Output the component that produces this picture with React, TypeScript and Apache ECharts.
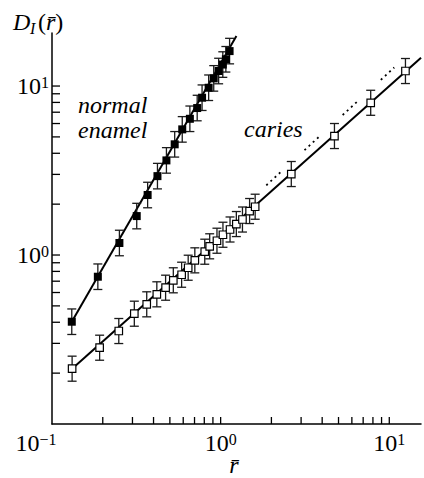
import React, { useEffect, useRef } from "react";
import * as echarts from "echarts";

// ---- data ----
const enamelX = [0.131, 0.187, 0.251, 0.318, 0.369, 0.422, 0.477, 0.534, 0.592, 0.657, 0.726, 0.776, 0.849, 0.91, 0.973, 1.03, 1.074, 1.13];
const enamelY = [0.403, 0.744, 1.178, 1.7, 2.265, 2.93, 3.63, 4.52, 5.54, 6.4, 7.41, 8.53, 9.77, 11.1, 12.27, 13.4, 14.4, 16.1];
const enamelErr = [1.19, 1.19, 1.19, 1.19, 1.19, 1.19, 1.19, 1.19, 1.19, 1.19, 1.19, 1.19, 1.19, 1.19, 1.19, 1.19, 1.19, 1.19];

const cariesX = [0.1316, 0.1916, 0.2489, 0.3077, 0.3645, 0.4184, 0.4716, 0.524, 0.587, 0.642, 0.703, 0.805, 0.861, 0.951, 1.032, 1.137, 1.239, 1.347, 1.485, 1.602, 2.624, 4.73, 7.76, 12.47];
const cariesY = [0.2125, 0.2828, 0.355, 0.4495, 0.5108, 0.5854, 0.6406, 0.7086, 0.7645, 0.841, 0.93, 1.046, 1.126, 1.215, 1.318, 1.416, 1.525, 1.622, 1.821, 1.931, 3.015, 5.06, 7.96, 12.27];
const cariesErr = [1.186, 1.186, 1.186, 1.186, 1.186, 1.186, 1.186, 1.186, 1.186, 1.186, 1.186, 1.186, 1.186, 1.186, 1.186, 1.186, 1.186, 1.186, 1.186, 1.186, 1.186, 1.186, 1.186, 1.186];

// fitted lines (end points)
const enamelFitX = [0.131, 1.24];
const enamelFitY = [0.403, 19.8];
const cariesFitX = [0.1316, 15.43];
const cariesFitY = [0.2125, 14.7];
const dottedX = [1.865, 10.7];
const dottedY = [2.585, 12.87];

// axes
const X_MIN = 0.1;
const X_MAX = 15.42;
const Y_MIN = 0.1;
const Y_MAX = 20.6;
const xTicks = [0.2, 0.3, 0.4, 0.5, 0.6, 0.7, 0.8, 0.9, 1, 2, 3, 4, 5, 6, 7, 8, 9, 10];
const yTicks = [0.2, 0.3, 0.4, 0.5, 0.6, 0.7, 0.8, 0.9, 1, 2, 3, 4, 5, 6, 7, 8, 9, 10];

const SERIF = "Liberation Serif, Times New Roman, serif";

function powerOf10(v: number): number | null {
  const e = Math.log10(v);
  const r = Math.round(e);
  return Math.abs(e - r) < 1e-6 ? r : null;
}
function expText(r: number) {
  return r < 0 ? "\u2212" + -r : String(r);
}

const rich = {
  b: { fontSize: 24, fontFamily: SERIF, color: "#000", lineHeight: 24 },
  s: { fontSize: 16, fontFamily: SERIF, color: "#000", lineHeight: 16, verticalAlign: "top" },
  sp: { width: 32, fontSize: 16, lineHeight: 16 },
};

function errorBarSeries(xs: number[], ys: number[], errs: number[]) {
  return {
    type: "custom",
    coordinateSystem: "cartesian2d",
    silent: true,
    z: 3,
    data: xs.map((x, i) => [x, ys[i] / errs[i], ys[i] * errs[i]]),
    encode: { x: 0, y: [1, 2] },
    renderItem: (_p: any, api: any) => {
      const x = api.value(0);
      const lo = api.coord([x, api.value(1)]);
      const hi = api.coord([x, api.value(2)]);
      const c = 4.5;
      const st = { stroke: "#1a1a1a", lineWidth: 1.3 };
      return {
        type: "group",
        children: [
          { type: "line", shape: { x1: lo[0], y1: lo[1], x2: hi[0], y2: hi[1] }, style: st },
          { type: "line", shape: { x1: lo[0] - c, y1: lo[1], x2: lo[0] + c, y2: lo[1] }, style: st },
          { type: "line", shape: { x1: hi[0] - c, y1: hi[1], x2: hi[0] + c, y2: hi[1] }, style: st },
        ],
      };
    },
  };
}

function textEl(text: string, x: number, y: number, size: number, italic: boolean, align = "left", extra: any = {}) {
  const font = `${italic ? "italic " : ""}${size}px ${SERIF}`;
  return {
    type: "text",
    x,
    y,
    silent: true,
    style: {
      text,
      font,
      fill: "#000",
      align,
      verticalAlign: "middle",
      textAlign: align,
      textVerticalAlign: "middle",
      ...extra,
    },
  };
}

export default function App() {
  const ref = useRef<HTMLDivElement>(null);
  useEffect(() => {
    if (!ref.current) return;
    const chart = echarts.init(ref.current, null, { renderer: "svg" });
    const option: any = {
      animation: false,
      backgroundColor: "#fff",
      grid: { left: 52, right: 0, top: 33, bottom: 54, containLabel: false },
      xAxis: {
        type: "log",
        logBase: 10,
        min: X_MIN,
        max: X_MAX,
        axisLine: { show: true, onZero: false, lineStyle: { color: "#000", width: 1.5 } },
        axisTick: { show: false },
        minorTick: { show: false },
        splitLine: { show: false },
        axisLabel: {
          margin: 7,
          formatter: (v: number) => {
            const r = powerOf10(v);
            if (r === null) return "";
            return r === -1 ? `{b|10}{s|${expText(r)}}{sp| }` : `{b|10}{s|${expText(r)}}`;
          },
          rich,
        },
      },
      yAxis: {
        type: "log",
        logBase: 10,
        min: Y_MIN,
        max: Y_MAX,
        axisLine: { show: true, onZero: false, lineStyle: { color: "#000", width: 1.5 } },
        axisTick: { show: false },
        minorTick: { show: false },
        splitLine: { show: false },
        axisLabel: {
          margin: 3,
          formatter: (v: number) => {
            const r = powerOf10(v);
            if (r === null || r === -1) return "";
            return `{b|10}{s|${expText(r)}}`;
          },
          rich,
        },
      },
      series: [
        {
          type: "line",
          data: enamelFitX.map((x, i) => [x, enamelFitY[i]]),
          showSymbol: false,
          symbol: "none",
          silent: true,
          z: 2,
          lineStyle: { color: "#000", width: 2 },
        },
        {
          type: "line",
          data: cariesFitX.map((x, i) => [x, cariesFitY[i]]),
          showSymbol: false,
          symbol: "none",
          silent: true,
          z: 2,
          lineStyle: { color: "#000", width: 2 },
        },
        {
          type: "line",
          data: dottedX.map((x, i) => [x, dottedY[i]]),
          showSymbol: false,
          symbol: "none",
          silent: true,
          z: 2,
          lineStyle: { color: "#000", width: 1.8, type: [2, 3.7, 2, 3.7, 2, 3.7, 2, 32.8], cap: "butt" },
        },
        errorBarSeries(enamelX, enamelY, enamelErr),
        errorBarSeries(cariesX, cariesY, cariesErr),
        {
          type: "scatter",
          data: enamelX.map((x, i) => [x, enamelY[i]]),
          symbol: "rect",
          symbolSize: 8,
          z: 4,
          itemStyle: { color: "#000", opacity: 1 },
        },
        {
          type: "scatter",
          data: cariesX.map((x, i) => [x, cariesY[i]]),
          symbol: "rect",
          symbolSize: 7.5,
          z: 4,
          itemStyle: { color: "#fff", borderColor: "#000", borderWidth: 1.2, opacity: 1 },
        },
        {
          type: "custom",
          coordinateSystem: "cartesian2d",
          silent: true,
          z: 5,
          data: xTicks.map((v) => [v, Y_MIN]),
          renderItem: (_p: any, api: any) => {
            const p = api.coord([api.value(0), api.value(1)]);
            return { type: "line", shape: { x1: p[0], y1: p[1], x2: p[0], y2: p[1] - 7 }, style: { stroke: "#000", lineWidth: 1.3 } };
          },
        },
        {
          type: "custom",
          coordinateSystem: "cartesian2d",
          silent: true,
          z: 5,
          data: yTicks.map((v) => [X_MIN, v]),
          renderItem: (_p: any, api: any) => {
            const p = api.coord([api.value(0), api.value(1)]);
            return { type: "line", shape: { x1: p[0], y1: p[1], x2: p[0] + 8, y2: p[1] }, style: { stroke: "#000", lineWidth: 1.3 } };
          },
        },
      ],
      graphic: [
        textEl("D", 13, 22, 24, true),
        textEl("I", 30, 28, 16, true),
        textEl("{p|(}{i|r\u0304}{p|)}", 38, 22, 24, false, "left", {
          rich: {
            p: { fontFamily: SERIF, fontSize: 24, fill: "#000", lineHeight: 24 },
            i: { fontFamily: SERIF, fontSize: 24, fontStyle: "italic", fill: "#000", lineHeight: 24 },
          },
        }),
        textEl("normal", 78, 105, 24, true),
        textEl("enamel", 78, 130, 24, true),
        textEl("caries", 244, 129, 24, true),
        textEl("r\u0304", 234, 465, 24, true, "center"),
      ],
    };
    chart.setOption(option);
    return () => chart.dispose();
  }, []);
  return <div ref={ref} style={{ position: "absolute", left: 0, top: 0, width: 424, height: 478 }} />;
}
